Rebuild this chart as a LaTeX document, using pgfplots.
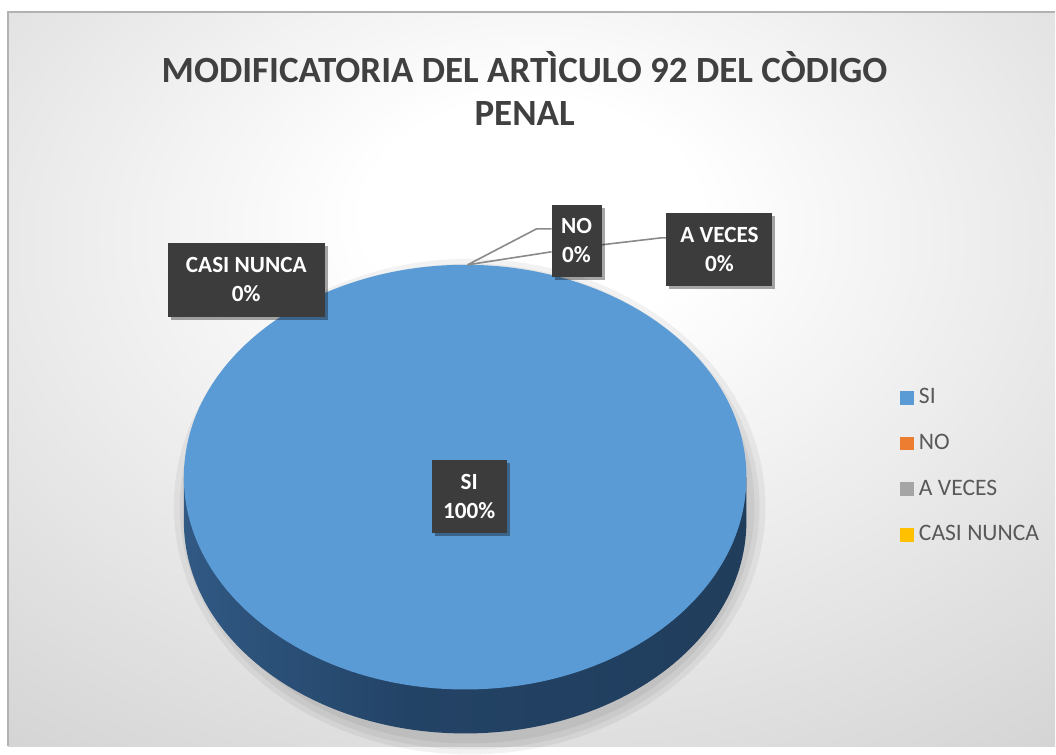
\documentclass[border=0pt]{standalone}
\usepackage{pgfplots}
\pgfplotsset{compat=1.18}
\usepackage{pgfplotstable}
\usepackage{fontspec}
\setmainfont{Carlito}
\usetikzlibrary{shadows}
\definecolor{siblue}{HTML}{5B9BD5}
\definecolor{noorange}{HTML}{ED7D31}
\definecolor{avgray}{HTML}{A5A5A5}
\definecolor{cnyellow}{HTML}{FFC000}
\definecolor{titlegray}{HTML}{404040}
\definecolor{legtext}{HTML}{595959}
\definecolor{boxfill}{HTML}{3C3C3C}
\definecolor{sideA}{HTML}{4174A8}
\definecolor{sideB}{HTML}{234366}
\definecolor{sideC}{HTML}{1E3853}
\definecolor{bgout}{HTML}{C2C2C2}
\definecolor{leader}{HTML}{8A8A8A}
\pgfdeclarehorizontalshading{pieside}{100bp}{color(0bp)=(sideA); color(45bp)=(sideB); color(100bp)=(sideC)}
\pgfdeclareradialshading{chartbg}{\pgfpoint{0bp}{12bp}}{color(0bp)=(white); color(8bp)=(white); color(55bp)=(bgout); color(100bp)=(bgout)}

\pgfplotstableread[col sep=comma]{
label,value
SI,100
NO,0
A VECES,0
CASI NUNCA,0
}\piedata

\begin{document}
\pgfplotstablegetelem{0}{value}\of\piedata\let\vSI\pgfplotsretval
\pgfplotstablegetelem{1}{value}\of\piedata\let\vNO\pgfplotsretval
\pgfplotstablegetelem{2}{value}\of\piedata\let\vAV\pgfplotsretval
\pgfplotstablegetelem{3}{value}\of\piedata\let\vCN\pgfplotsretval
\begin{tikzpicture}[
  lbl/.style={fill=boxfill, text=white, font=\bfseries\fontsize{11.6}{14.5}\selectfont,
    align=center, inner sep=0pt,
    drop shadow={shadow xshift=1.5pt, shadow yshift=-1.5pt, opacity=0.35, fill=black}}
]
\begin{axis}[
  scale only axis, width=528pt, height=373.5pt,
  xmin=0, xmax=1056, ymin=0, ymax=747,
  hide axis, clip=false,
  legend style={at={(axis description cs:0.847,0.488)}, anchor=north west,
    draw=none, fill=none, text=legtext,
    font=\fontsize{11.8}{13}\selectfont, row sep=11.7pt,
    nodes={inner sep=1pt}},
  legend cell align=left,
  legend image code/.code={\fill[#1, draw=none] (0pt,-3.4pt) rectangle (6.8pt,3.4pt); \path (8.2pt,0pt);},
]
% page and chart area
\fill[white] (axis cs:0,0) rectangle (axis cs:1056,747);
\shade[shading=chartbg] (axis cs:8,0) rectangle (axis cs:1056,735);
\draw[black!30, line width=0.8pt] (axis cs:8,0) -- (axis cs:8,735) -- (axis cs:1056,735);
% title
\node[anchor=base, text=titlegray, font=\bfseries\fontsize{18.5}{22}\selectfont] at (axis cs:525,664) {MODIFICATORIA DEL ARTÌCULO 92 DEL CÒDIGO};
\node[anchor=base, text=titlegray, font=\bfseries\fontsize{18.5}{22}\selectfont] at (axis cs:525,621) {PENAL};
% soft shadow of the pie
\fill[black, opacity=0.05] (axis cs:470,240) ellipse [x radius=296, y radius=248];
\fill[black, opacity=0.05] (axis cs:470,240) ellipse [x radius=290, y radius=243];
\fill[black, opacity=0.05] (axis cs:470,241) ellipse [x radius=285, y radius=238];
% pie: SI = 100 %, one full slice
\shade[shading=pieside] (axis cs:184,269.5) rectangle (axis cs:747,225.5)
   (axis cs:465.5,225.5) ellipse [x radius=281.5, y radius=212.5];
\fill[siblue] (axis cs:465.5,269.5) ellipse [x radius=281.5, y radius=212.5];
% leader lines of the 0 % slices
\draw[leader, line width=0.8pt] (axis cs:468,482) -- (axis cs:537,518) -- (axis cs:552,518);
\draw[leader, line width=0.8pt] (axis cs:468,482) -- (axis cs:552,495);
\draw[leader, line width=0.8pt] (axis cs:602,502) -- (axis cs:662,509) -- (axis cs:668,509);
% data labels
\node[lbl, minimum width=78.5pt, minimum height=37pt] at (axis cs:246.5,467) {CASI NUNCA\\\vCN\%};
\node[lbl, minimum width=25pt, minimum height=36pt] at (axis cs:577,506) {NO\\\vNO\%};
\node[lbl, minimum width=53pt, minimum height=36.5pt] at (axis cs:720,497.5) {A VECES\\\vAV\%};
\node[lbl, minimum width=37.5pt, minimum height=36.5pt] at (axis cs:469.5,250.5) {SI\\\vSI\%};
% legend
\addlegendimage{fill=siblue}\addlegendentry{SI}
\addlegendimage{fill=noorange}\addlegendentry{NO}
\addlegendimage{fill=avgray}\addlegendentry{A VECES}
\addlegendimage{fill=cnyellow}\addlegendentry{CASI NUNCA}
\end{axis}
\end{tikzpicture}
\end{document}
